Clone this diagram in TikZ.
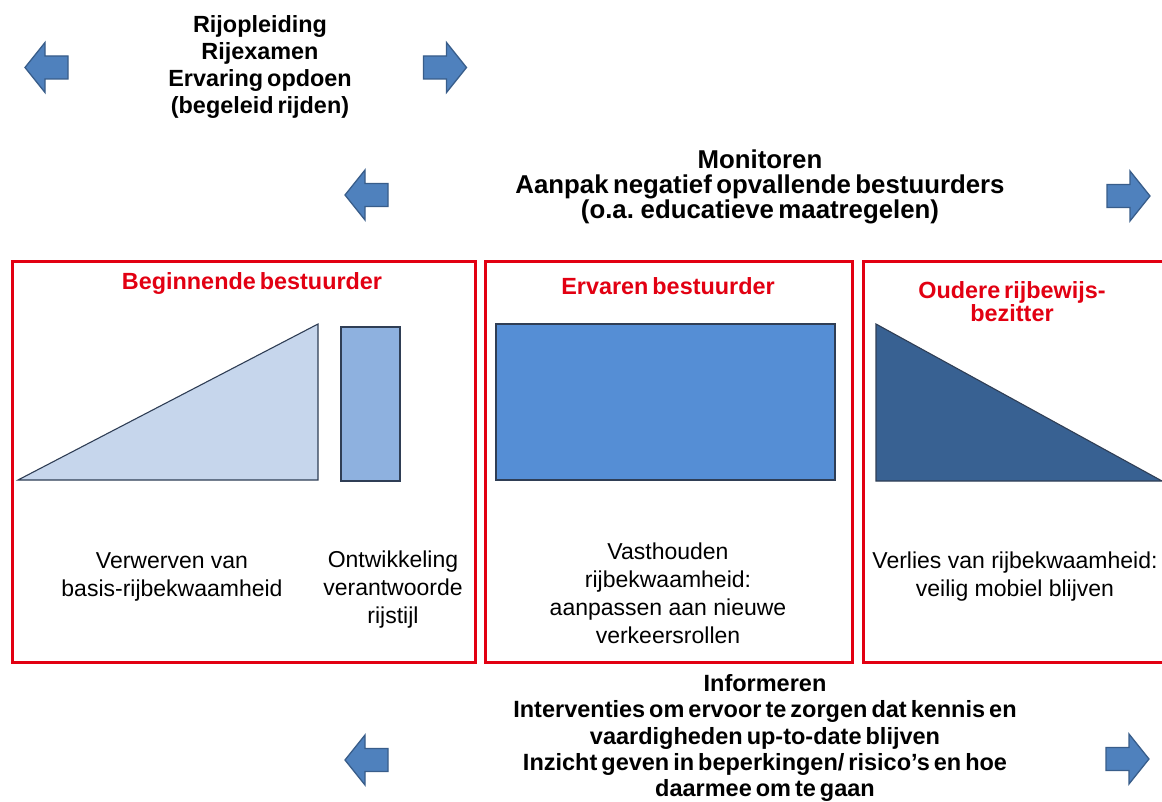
\documentclass[tikz,border=0pt]{standalone}
\usepackage{fontspec}
\setmainfont{Liberation Sans}
\newcommand\tightsp{\spaceskip=0.17em\relax}
\begin{document}
\begin{tikzpicture}[x=1pt,y=-1pt,
  redbox/.style={draw={rgb,255:red,226;green,0;blue,18}, line width=3pt},
  shapeln/.style={draw={rgb,255:red,47;green,62;blue,85}, line width=1.1pt},
  arrowst/.style={fill={rgb,255:red,79;green,129;blue,189}, draw={rgb,255:red,56;green,93;blue,138}, line width=1.3pt, line join=miter},
  bigtxt/.style={align=center, inner sep=0pt},
  regtxt/.style={align=center, font={\fontsize{23}{28}\selectfont}, inner sep=0pt},
  titletxt/.style={align=center, text={rgb,255:red,226;green,0;blue,18}, font={\fontsize{23.4}{23}\selectfont\bfseries\tightsp}, inner sep=0pt},
  larr/.pic={\path[arrowst] (-21.5,0) -- (-1.5,-25) -- (-1.5,-11.5) -- (21.5,-11.5) -- (21.5,11.5) -- (-1.5,11.5) -- (-1.5,25) -- cycle;},
  rarr/.pic={\path[arrowst] (21.5,0) -- (1.5,-25) -- (1.5,-11.5) -- (-21.5,-11.5) -- (-21.5,11.5) -- (1.5,11.5) -- (1.5,25) -- cycle;}
]
\useasboundingbox (0,0) rectangle (1162,802);
\clip (0,0) rectangle (1162,802);
\fill[white] (0,0) rectangle (1162,802);

% arrows
\pic (a1) at (46.5,67.5) {larr};
\pic (a2) at (445,67.5) {rarr};
\pic (a3) at (366.5,195) {larr};
\pic (a4) at (1128.5,196) {rarr};
\pic (a5) at (366.5,760) {larr};
\pic (a6) at (1127.5,759) {rarr};

% top texts
\node[bigtxt, font={\fontsize{23.4}{26.7}\selectfont\bfseries\tightsp}] (t1) at (260,67) {Rijopleiding\\Rijexamen\\Ervaring opdoen\\(begeleid rijden)};
\node[bigtxt, font={\fontsize{25.8}{25.2}\selectfont\bfseries\tightsp}] (t2) at (760,187) {Monitoren\\Aanpak negatief opvallende bestuurders\\(o.a. educatieve maatregelen)};
\node[bigtxt, font={\fontsize{23.5}{26.2}\selectfont\bfseries\tightsp}] (t3) at (765,738) {Informeren\\Interventies om ervoor te zorgen dat kennis en\\vaardigheden up-to-date blijven\\Inzicht geven in beperkingen/ risico’s en hoe\\daarmee om te gaan};

% red boxes
\draw[redbox] (12,262) rectangle (475,662);
\draw[redbox] (485,262) rectangle (852,662);
\draw[redbox] (863,262) rectangle (1175,662);

% titles
\node[titletxt] (h1) at (252,284) {Beginnende bestuurder};
\node[titletxt] (h2) at (668,286) {Ervaren bestuurder};
\node[titletxt] (h3) at (1012,302) {Oudere rijbewijs-\\bezitter};

% shapes
\path[shapeln, fill={rgb,255:red,198;green,214;blue,236}] (18,480) -- (318,480) -- (318,324) -- cycle;
\path[shapeln, fill={rgb,255:red,142;green,177;blue,223}] (341,327) rectangle (400,481);
\path[shapeln, fill={rgb,255:red,85;green,142;blue,213}] (496,324) rectangle (835,480);
\path[shapeln, fill={rgb,255:red,56;green,97;blue,146}] (876,324) -- (876,481) -- (1162,481) -- cycle;

% descriptions
\node[regtxt] (d1) at (172,577) {Verwerven van\\basis-rijbekwaamheid};
\node[regtxt] (d2) at (393,590) {Ontwikkeling\\verantwoorde\\rijstijl};
\node[regtxt] (d3) at (668,593) {Vasthouden\\rijbekwaamheid:\\aanpassen aan nieuwe\\verkeersrollen};
\node[regtxt] (d4) at (1015,577) {Verlies van rijbekwaamheid:\\veilig mobiel blijven};
\end{tikzpicture}
\end{document}
